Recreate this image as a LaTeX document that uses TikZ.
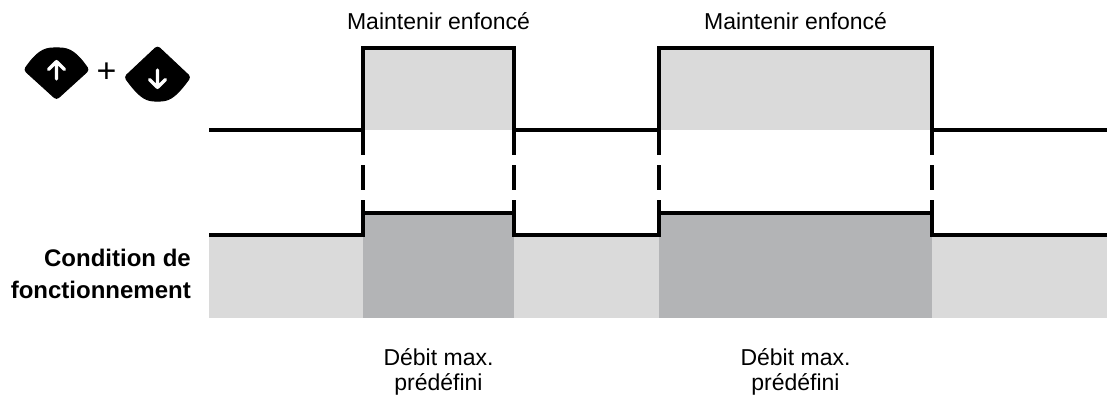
\documentclass[tikz,border=0pt]{standalone}
\usepackage{fontspec}
\setmainfont{Liberation Sans}
\definecolor{lightfill}{HTML}{DADADA}
\definecolor{darkfill}{HTML}{B3B4B6}
\begin{document}
\begin{tikzpicture}[x=1pt,y=-1pt,
  sig/.style={line width=3.1pt, line join=miter, draw=black},
  dashv/.style={line width=3.1pt, draw=black, dash pattern=on 25pt off 10pt},
  lbl/.style={font=\fontsize{23}{26}\selectfont, inner sep=0pt, anchor=base},
  blbl/.style={font=\bfseries\fontsize{24}{27}\selectfont, inner sep=0pt, anchor=base east},
  keyicon/.style={fill=black, draw=black, line width=1pt, line join=round},
  keyarrow/.style={draw=white, line width=3.2pt, line cap=round, line join=round}]
\useasboundingbox (0,0) rectangle (1107,396);

% fills
\fill[lightfill] (209,235) rectangle (1107,318);
\fill[darkfill] (363,213) rectangle (514,318);
\fill[darkfill] (659,213) rectangle (932,318);
\fill[lightfill] (363,48) rectangle (514,130);
\fill[lightfill] (659,48) rectangle (932,130);

% upper signal
\draw[sig] (209,130) -- (363,130) -- (363,48) -- (514,48) -- (514,130) -- (659,130)
  -- (659,48) -- (932,48) -- (932,130) -- (1107,130);
% lower signal
\draw[sig] (209,235) -- (363,235) -- (363,213) -- (514,213) -- (514,235) -- (659,235)
  -- (659,213) -- (932,213) -- (932,235) -- (1107,235);

% dashed links
\draw[dashv] (363,130) -- (363,213);
\draw[dashv] (514,130) -- (514,213);
\draw[dashv] (659,130) -- (659,213);
\draw[dashv] (932,130) -- (932,213);

% key icons
\path[keyicon, rounded corners=3pt] (56.5,99.5) -- (24,70)
  .. controls (36,53) and (43,48) .. (56.5,48) .. controls (70,48) and (77,53) .. (89,70) -- cycle;
\draw[keyarrow] (48.5,69.5) -- (56.5,61.5) -- (64.5,69.5) (56.5,61.5) -- (56.5,79);

\path[keyicon, rounded corners=3pt] (157.5,46) -- (190.5,77)
  .. controls (178,94) and (171,101) .. (157.5,101) .. controls (144,101) and (137,94) .. (124.5,77) -- cycle;
\draw[keyarrow] (149.5,79.5) -- (157.5,87.5) -- (165.5,79.5) (157.5,70) -- (157.5,87.5);

\node[font=\fontsize{34}{34}\selectfont, inner sep=0pt] (plus) at (106.5,72.5) {+};

% labels
\node[lbl] (hold1) at (438.5,29.5) {Maintenir enfoncé};
\node[lbl] (hold2) at (795.5,29.5) {Maintenir enfoncé};
\node[lbl] (deb1a) at (438.5,365) {Débit max.};
\node[lbl] (deb1b) at (438.5,390) {prédéfini};
\node[lbl] (deb2a) at (795.5,365) {Débit max.};
\node[lbl] (deb2b) at (795.5,390) {prédéfini};
\node[blbl] (cond1) at (191,266.5) {Condition de};
\node[blbl] (cond2) at (191,298) {fonctionnement};
\end{tikzpicture}
\end{document}
